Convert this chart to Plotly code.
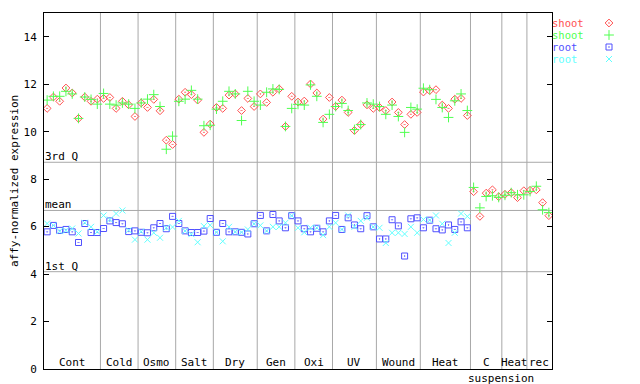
import plotly.graph_objects as go

# ---------------- data ----------------
groups = ["Cont", "Cold", "Osmo", "Salt", "Dry", "Gen", "Oxi", "UV", "Wound",
          "Heat", "C", "Heat", "rec"]
group_sizes = [9, 6, 6, 6, 7, 6, 6, 7, 7, 8, 5, 4, 4]
sub_label = "suspension"   # second line under "C"

shoot_1 = [10.98, 11.46, 11.28, 11.84, 11.63, 10.56, 11.46, 11.28, 11.37,
           11.40, 11.44, 10.98, 11.28, 11.13, 10.64,
           11.21, 11.02, 11.36, 10.88, 9.64, 9.46,
           11.37, 11.66, 11.56, 11.33, 9.97, 10.32,
           11.02, 10.98, 11.54, 11.59, 10.89, 11.40, 11.06,
           11.59, 11.23, 11.66, 11.80, 10.22, 11.49,
           11.25, 11.29, 12.01, 11.63, 10.53, 11.44,
           11.06, 11.33, 10.81, 10.05, 10.30, 11.13, 10.98,
           11.02, 10.89, 11.25, 10.81, 10.30, 10.73, 10.81,
           11.67, 11.73, 11.77, 11.12, 10.98, 11.37, 11.40, 10.68,
           7.47, 6.43, 7.41, 7.55, 7.26,
           7.36, 7.43, 7.22, 7.51,
           7.53, 7.55, 7.01, 6.46]
shoot_2 = [11.33, 11.49, 11.49, 11.70, 11.59, 10.56, 11.46, 11.36, 11.16,
           11.61, 11.16, 11.12, 11.21, 11.16, 10.98,
           11.21, 11.37, 11.56, 11.06, 9.26, 9.81,
           11.28, 11.37, 11.74, 11.37, 10.25, 10.27,
           10.95, 11.28, 11.70, 11.59, 10.47, 11.70, 11.28,
           11.12, 11.66, 11.80, 11.78, 10.22, 10.98,
           11.15, 11.12, 11.97, 11.49, 10.39, 10.73,
           11.06, 11.19, 10.89, 10.09, 10.30, 11.21, 11.16,
           11.06, 10.73, 11.12, 10.64, 9.97, 11.02, 10.95,
           11.83, 11.77, 11.36, 11.02, 10.60, 11.30, 11.59, 10.89,
           7.65, 6.79, 7.27, 7.30, 7.23,
           7.32, 7.43, 7.34, 7.34,
           7.48, 7.70, 6.71, 6.59]
root_1 = [5.78, 6.05, 5.84, 5.88, 5.78, 5.33, 6.13, 5.75, 5.75,
          5.92, 6.24, 6.17, 6.12, 5.79, 5.82,
          5.76, 5.74, 5.95, 6.13, 5.91, 6.43,
          6.13, 5.82, 5.75, 5.75, 5.81, 6.34,
          5.76, 6.13, 5.78, 5.78, 5.76, 5.69, 6.12,
          6.47, 5.82, 6.51, 6.24, 5.95, 6.46,
          6.24, 5.91, 5.78, 5.93, 5.78, 6.24,
          6.47, 5.88, 6.37, 6.07, 5.91, 6.46, 5.99,
          5.48, 5.48, 6.29, 6.03, 4.76, 6.33, 6.37,
          5.95, 6.27, 5.91, 5.86, 6.07, 5.88, 6.20, 5.95]
root_2 = [6.13, 6.05, 5.81, 5.84, 5.92, 5.71, 6.16, 5.99, 5.78,
          6.47, 6.30, 6.55, 6.68, 5.85, 5.45,
          5.79, 5.45, 5.74, 5.53, 5.95, 5.98,
          6.24, 5.82, 5.68, 5.34, 6.02, 6.06,
          5.76, 5.38, 5.99, 5.78, 5.76, 5.88, 6.12,
          6.05, 5.82, 5.99, 5.99, 6.16, 6.46,
          5.95, 5.76, 5.95, 5.95, 5.64, 5.99,
          6.16, 5.88, 6.47, 5.99, 6.24, 6.37, 5.99,
          5.95, 5.31, 5.74, 5.74, 5.69, 5.99, 5.74,
          6.30, 6.27, 6.47, 6.12, 5.31, 5.74, 6.55, 6.43]

stat_names = ["3rd Q", "mean", "1st Q"]
stat_values = [8.71, 6.68, 4.10]
y_ticks = [0, 2, 4, 6, 8, 10, 12, 14]

series_names = ["shoot", "shoot", "root", "root"]
series_colors = ["#ff5050", "#50ff50", "#5050ff", "#60ffff"]
series_symbols = ["diamond-open-dot", "cross-thin-open", "square-open-dot", "x-thin-open"]
series_sizes = [6, 7, 6, 6]

# ---------------- figure ----------------
FONT = "DejaVu Sans Mono"
PAGE_OFF = 8                      # default body margin of the html page
W, H = 640 - PAGE_OFF, 384 - PAGE_OFF
ML, MR, MT, MB = 44 - PAGE_OFF, 0, 13 - PAGE_OFF, 15
plot_w = W - ML - MR
main_frac = (552 - 44) / plot_w

n_total = sum(group_sizes)
series = [shoot_1, shoot_2, root_1, root_2]

fig = go.Figure()
for vals, name, col, sym, sz in zip(series, series_names, series_colors,
                                    series_symbols, series_sizes):
    fig.add_trace(go.Scatter(
        x=[i + 0.5 for i in range(len(vals))], y=vals, mode="markers",
        name=name, showlegend=False,
        marker=dict(symbol=sym, color=col, size=sz, line=dict(color=col, width=1)),
        xaxis="x", yaxis="y"))

# custom legend (text left, marker right) in an auxiliary pixel-space subplot
leg_y = [23, 35, 47, 59]
for k, (name, col, sym, sz) in enumerate(zip(series_names, series_colors,
                                             series_symbols, series_sizes)):
    fig.add_trace(go.Scatter(
        x=[609], y=[leg_y[k]], mode="markers", showlegend=False,
        marker=dict(symbol=sym, color=col, size=sz, line=dict(color=col, width=1)),
        xaxis="x2", yaxis="y2", hoverinfo="skip"))
    fig.add_annotation(x=552, y=leg_y[k], xref="x2", yref="y2", text=name,
                       showarrow=False, xanchor="left", yanchor="middle", xshift=-1,
                       borderpad=0, font=dict(family=FONT, size=10.5, color=col))

shapes = []
# group separators
edge = 0
for s in group_sizes[:-1]:
    edge += s
    shapes.append(dict(type="line", xref="x", yref="y domain", x0=edge, x1=edge,
                       y0=0, y1=1, line=dict(color="#a8a8a8", width=1), layer="below"))
# stat lines
for v in stat_values:
    shapes.append(dict(type="line", xref="x domain", yref="y", x0=0, x1=1,
                       y0=v, y1=v, line=dict(color="#a8a8a8", width=1), layer="below"))

for name, v in zip(stat_names, stat_values):
    fig.add_annotation(x=0, y=v, xref="x", yref="y", text=name, showarrow=False,
                       xanchor="left", yanchor="bottom", xshift=-1, yshift=-3,
                       font=dict(family=FONT, size=11, color="black"))

# group labels
start = 0
for g, s in zip(groups, group_sizes):
    fig.add_annotation(x=start + s / 2, y=0, xref="x", yref="y", text=g,
                       showarrow=False, xanchor="center", yanchor="bottom", yshift=-2,
                       font=dict(family=FONT, size=11, color="black"))
    if g == "C":
        fig.add_annotation(x=start + s / 2 + 2.4, y=0, xref="x", yref="y",
                           text=sub_label, showarrow=False, xanchor="center",
                           yanchor="top", yshift=-1,
                           font=dict(family=FONT, size=11, color="black"))
    start += s

# y axis title
fig.add_annotation(x=(14 - 44) / plot_w, y=0.528, xref="paper", yref="paper",
                   text="affy-normalized expression", textangle=-90, showarrow=False,
                   xanchor="center", yanchor="middle",
                   font=dict(family=FONT, size=11, color="black"))

fig.update_layout(
    width=W, height=H, margin=dict(l=ML, r=MR, t=MT, b=MB),
    paper_bgcolor="white", plot_bgcolor="white", showlegend=False,
    shapes=shapes,
    xaxis=dict(domain=[0, main_frac], range=[0, n_total], showticklabels=False,
               ticks="", showgrid=False, zeroline=False, showline=True,
               linecolor="black", linewidth=1, mirror=True, fixedrange=True),
    yaxis=dict(range=[0, 15], tickvals=y_ticks, ticks="inside", ticklen=5,
               tickcolor="black", showgrid=False, zeroline=False, showline=True,
               linecolor="black", linewidth=1, mirror="ticks",
               tickfont=dict(family=FONT, size=11, color="black"),
               ticklabelstandoff=4, fixedrange=True),
    xaxis2=dict(domain=[main_frac, 1], range=[552, 640], visible=False,
                anchor="y2", fixedrange=True),
    yaxis2=dict(domain=[0, 1], range=[369, 13], visible=False,
                anchor="x2", fixedrange=True),
)

fig.write_html("out.html")
